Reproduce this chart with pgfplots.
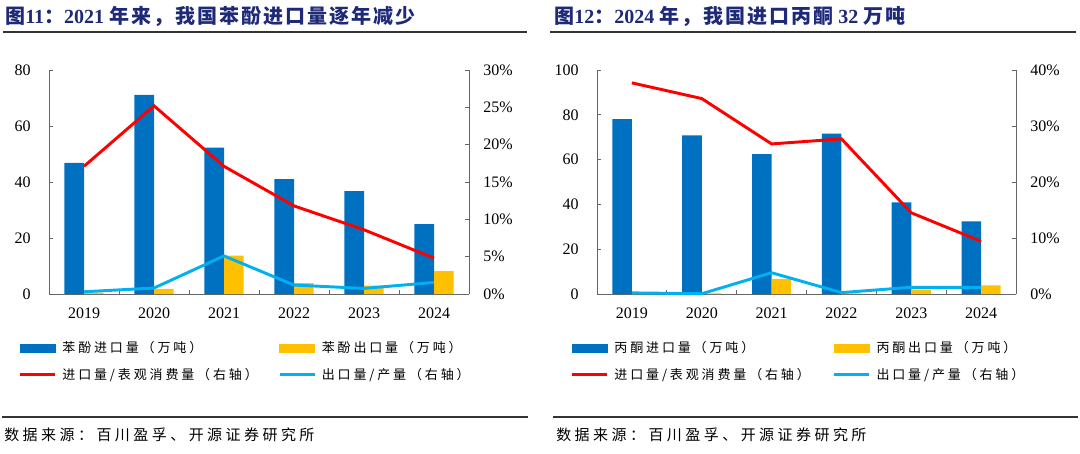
\documentclass[border=0pt]{standalone}
\usepackage{fontspec}
\usepackage{pgfplots}
\pgfplotsset{compat=1.18}
\setmainfont{Liberation Serif}
\newfontfamily\cjktitle{Noto Sans CJK SC}[LetterSpace=10]
\newfontfamily\cjkleg{Noto Sans CJK SC}[LetterSpace=22]
\newfontfamily\cjksrc{Noto Sans CJK SC}[LetterSpace=23]

\definecolor{bblue}{HTML}{0070C0}
\definecolor{byellow}{HTML}{FFC000}
\definecolor{lred}{HTML}{FF0000}
\definecolor{lcyan}{HTML}{00B0F0}
\definecolor{axisgray}{HTML}{666666}
\definecolor{titleblue}{HTML}{1E2A78}

\pgfplotsset{
  panel/.style={
    scale only axis, width=315pt, height=168pt,
    xmin=-0.5, xmax=5.5, ymin=0,
    anchor=south west,
    axis line style={draw=axisgray, line width=0.75pt},
    tick style={draw=axisgray, line width=0.75pt},
    tick align=inside,
    major tick length=3pt, minor tick length=3pt,
    ticklabel style={font=\fontsize{12pt}{12pt}\selectfont, text=black},
    /pgf/number format/assume math mode=true,
  },
  barax/.style={panel,
    axis y line*=left, axis x line*=bottom,
    xtick={0,1,2,3,4,5},
    xticklabels={2019,2020,2021,2022,2023,2024},
    minor xtick={0.5,1.5,2.5,3.5,4.5},
    major x tick style={draw=none},
    yticklabel style={anchor=east, inner sep=0pt, xshift=-13.5pt},
    xticklabel style={anchor=north, inner sep=0pt, yshift=-10.5pt},
  },
  lineax/.style={panel,
    axis y line*=right, axis x line=none, xtick=\empty, clip=false,
    yticklabel style={anchor=west, inner sep=0pt, xshift=10.5pt},
    yticklabel={\pgfmathprintnumber{\tick}\%},
    legend columns=2,
    legend cell align=left,
    legend style={draw=none, fill=none, inner sep=0pt, outer sep=0pt,
      anchor=north west,
      font=\fontsize{9.75pt}{11pt}\selectfont\cjkleg,
      nodes={inner sep=0pt},
      row sep=10pt,
      /tikz/every odd column/.append style={column sep=4.5pt}},
  },
  imp/.style={ybar, bar width=0.28, bar shift=-0.14, fill=bblue, draw=none},
  exp/.style={ybar, bar width=0.28, bar shift=0.14, fill=byellow, draw=none},
  barleg/.style={legend image code/.code={\fill[#1] (0pt,-3pt) rectangle (26.25pt,3pt);}},
  lineleg/.style={legend image code/.code={\draw[#1, line width=1.8pt] (0pt,0pt) -- (26.25pt,0pt);}},
}

\begin{document}
\begin{tikzpicture}
\useasboundingbox (0pt,0pt) rectangle (810pt,-339.75pt);

% ---------------- left panel: phenol
\node[anchor=west, inner sep=0pt, text=titleblue, font=\bfseries\fontsize{15pt}{15pt}\selectfont]
  at (3.75pt,-12.4pt) {{\cjktitle 图}11{\cjktitle ：}2021 {\cjktitle 年来，我国苯酚进口量逐年减少}};
\draw[black!80, line width=1pt] (2.25pt,-24pt) -- (395.25pt,-24pt);

\begin{axis}[barax, at={(36.75pt,-220.5pt)}, ymax=80, ytick={0,20,40,60,80}]
  \addplot[imp] coordinates {(0,46.8) (1,71.1) (2,52.3) (3,41.0) (4,36.7) (5,25.0)};
  \addplot[exp] coordinates {(0,0.5) (1,1.8) (2,13.7) (3,3.9) (4,3.0) (5,8.2)};
\end{axis}
\begin{axis}[lineax, at={(36.75pt,-220.5pt)}, ymax=30, ytick={0,5,10,15,20,25,30},
    legend style={at={(-0.0714,-0.212)}}]
  \addlegendimage{barleg=bblue}
  \addlegendentry{\makebox[162pt][l]{苯酚进口量（万吨）}}
  \addlegendimage{barleg=byellow}
  \addlegendentry{苯酚出口量（万吨）}
  \addlegendimage{lineleg=lred}
  \addlegendentry{\makebox[162pt][l]{进口量/表观消费量（右轴）}}
  \addlegendimage{lineleg=lcyan}
  \addlegendentry{出口量/产量（右轴）}
  \addplot[forget plot, lred, line width=2.2pt] coordinates {(0,17.1) (1,25.2) (2,17.1) (3,11.8) (4,8.6) (5,4.8)};
  \addplot[forget plot, lcyan, line width=2.2pt] coordinates {(0,0.3) (1,0.8) (2,5.1) (3,1.2) (4,0.75) (5,1.55)};
\end{axis}

\draw[black!80, line width=1pt] (1.5pt,-312.75pt) -- (396pt,-312.75pt);
\node[anchor=west, inner sep=0pt, font=\fontsize{11.25pt}{12pt}\selectfont\cjksrc]
  at (3pt,-326.25pt) {数据来源：百川盈孚、开源证券研究所};

% ---------------- right panel: acetone
\node[anchor=west, inner sep=0pt, text=titleblue, font=\bfseries\fontsize{15pt}{15pt}\selectfont]
  at (415.5pt,-12.4pt) {{\cjktitle 图}12{\cjktitle ：}2024 {\cjktitle 年，我国进口丙酮} 32 {\cjktitle 万吨}};
\draw[black!80, line width=1pt] (412.5pt,-24pt) -- (807pt,-24pt);

\begin{axis}[barax, at={(447.75pt,-220.5pt)}, width=314.25pt, ymax=100, ytick={0,20,40,60,80,100}]
  \addplot[imp] coordinates {(0,78.1) (1,70.8) (2,62.4) (3,71.6) (4,40.9) (5,32.4)};
  \addplot[exp] coordinates {(0,0.2) (1,0.3) (2,6.8) (3,0.3) (4,1.9) (5,3.9)};
\end{axis}
\begin{axis}[lineax, at={(447.75pt,-220.5pt)}, width=314.25pt, ymax=40, ytick={0,10,20,30,40},
    legend style={at={(-0.062,-0.212)}}]
  \addlegendimage{barleg=bblue}
  \addlegendentry{\makebox[164pt][l]{丙酮进口量（万吨）}}
  \addlegendimage{barleg=byellow}
  \addlegendentry{丙酮出口量（万吨）}
  \addlegendimage{lineleg=lred}
  \addlegendentry{\makebox[164pt][l]{进口量/表观消费量（右轴）}}
  \addlegendimage{lineleg=lcyan}
  \addlegendentry{出口量/产量（右轴）}
  \addplot[forget plot, lred, line width=2.2pt] coordinates {(0,37.7) (1,34.9) (2,26.8) (3,27.7) (4,14.5) (5,9.4)};
  \addplot[forget plot, lcyan, line width=2.2pt] coordinates {(0,0.2) (1,0.05) (2,3.8) (3,0.25) (4,1.2) (5,1.2)};
\end{axis}

\draw[black!80, line width=1pt] (414.75pt,-312.75pt) -- (808.5pt,-312.75pt);
\node[anchor=west, inner sep=0pt, font=\fontsize{11.25pt}{12pt}\selectfont\cjksrc]
  at (417pt,-326.25pt) {数据来源：百川盈孚、开源证券研究所};
\end{tikzpicture}
\end{document}
